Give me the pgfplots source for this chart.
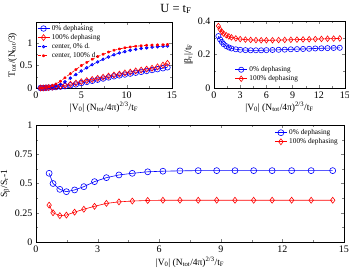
\documentclass[border=0pt]{standalone}
\usepackage{fontspec}
\setmainfont{Liberation Serif}
\usepackage{pgfplots}
\pgfplotsset{compat=1.18}
\definecolor{gblue}{RGB}{0,0,255}
\definecolor{gred}{RGB}{255,0,0}
\pgfplotsset{
  every axis/.style={
    scale only axis,
    /pgf/number format/assume math mode=true,
    tick label style={font=\fontsize{10}{11}\selectfont},
    label style={font=\fontsize{9.5}{10}\selectfont},
    tick align=inside,
    minor x tick num=1, minor y tick num=1,
    major tick length=3pt, minor tick length=1.6pt,
    legend style={draw=none, fill=none, font=\fontsize{7.3}{8}\selectfont, inner sep=1pt, row sep=-1.5pt},
    legend cell align=left,
    legend image code/.code={\draw[mark repeat=2,mark phase=2] plot coordinates {(0pt,0pt) (6pt,0pt) (12pt,0pt)};},
    line width=0.5pt,
  },
  every axis plot/.append style={line width=0.6pt},
}
\begin{document}
\begin{tikzpicture}
\useasboundingbox (0,0) rectangle (349pt,270pt);
\node[font=\fontsize{12.5}{13}\selectfont] at (176pt,261pt) {U = t\textsubscript{F}};
% top-left
\begin{axis}[at={(36pt,182pt)}, anchor=south west, width=136pt, height=66pt,
  xmin=0, xmax=15, ymin=0, ymax=1.47,
  xtick={0,5,10,15}, ytick={0,0.5,1},
  xlabel={|V\textsubscript{0}| (N\textsubscript{tot}/4π)\textsuperscript{2/3}/t\textsubscript{F}},
  ylabel={T\textsubscript{tot}/(N\textsubscript{tot}/3)},
  xlabel style={yshift=3pt}, ylabel style={yshift=-4pt},
  legend style={at={(0.0,1.0)}, anchor=north west}]
\addplot[gblue, mark=o, mark size=2.8pt] coordinates {
(0.5,0) (0.8,0) (1.1,0.005) (1.4,0.01) (1.8,0.015) (2.2,0.02) (2.7,0.03) (3.2,0.04) (3.8,0.06) (4.4,0.08) (5.0,0.11) (5.6,0.135) (6.2,0.16) (6.8,0.185) (7.4,0.21) (8.0,0.235) (8.6,0.26) (9.2,0.28) (9.8,0.30) (10.4,0.32) (11.0,0.34) (11.6,0.36) (12.2,0.38) (12.8,0.40) (13.4,0.42) (14.0,0.44) (14.5,0.46)};
\addlegendentry{0\% dephasing}
\addplot[gred, mark=diamond, mark size=3pt] coordinates {
(0.5,0) (0.8,0) (1.1,0.005) (1.4,0.01) (1.8,0.02) (2.2,0.03) (2.7,0.045) (3.2,0.06) (3.8,0.085) (4.4,0.11) (5.0,0.14) (5.6,0.165) (6.2,0.19) (6.8,0.215) (7.4,0.24) (8.0,0.265) (8.6,0.29) (9.2,0.31) (9.8,0.335) (10.4,0.355) (11.0,0.38) (11.6,0.40) (12.2,0.42) (12.8,0.44) (13.4,0.47) (14.0,0.51) (14.5,0.55)};
\addlegendentry{100\% dephasing}
\addplot[gblue, dashed, mark=o, mark size=1.2pt, mark options={solid, line width=0.9pt}] coordinates {
(0.5,0) (0.8,0) (1.1,0.005) (1.4,0.01) (1.8,0.02) (2.2,0.04) (2.7,0.08) (3.2,0.14) (3.8,0.22) (4.4,0.30) (5.0,0.38) (5.6,0.45) (6.2,0.52) (6.8,0.58) (7.4,0.64) (8.0,0.69) (8.6,0.74) (9.2,0.78) (9.8,0.81) (10.4,0.84) (11.0,0.86) (11.6,0.88) (12.2,0.895) (12.8,0.91) (13.4,0.92) (14.0,0.93) (14.5,0.935)};
\addlegendentry{center, 0\% d.}
\addplot[gred, dashed, mark=asterisk, mark size=1.4pt, mark options={solid, line width=0.9pt}] coordinates {
(0.5,0) (0.8,0) (1.1,0.01) (1.4,0.02) (1.8,0.05) (2.2,0.09) (2.7,0.15) (3.2,0.23) (3.8,0.32) (4.4,0.41) (5.0,0.50) (5.6,0.57) (6.2,0.64) (6.8,0.70) (7.4,0.75) (8.0,0.80) (8.6,0.84) (9.2,0.87) (9.8,0.895) (10.4,0.915) (11.0,0.93) (11.6,0.94) (12.2,0.95) (12.8,0.955) (13.4,0.96) (14.0,0.965) (14.5,0.97)};
\addlegendentry{center, 100\% d.}
\end{axis}
% top-right
\begin{axis}[at={(214pt,182pt)}, anchor=south west, width=131pt, height=67pt,
  xmin=0, xmax=15, ymin=0, ymax=0.4,
  xtick={0,3,6,9,12,15}, ytick={0,0.2,0.4},
  yticklabel style={/pgf/number format/fixed},
  xlabel={|V\textsubscript{0}| (N\textsubscript{tot}/4π)\textsuperscript{2/3}/t\textsubscript{F}},
  ylabel={|β\textsubscript{r}|/t\textsubscript{F}},
  xlabel style={yshift=3pt}, ylabel style={yshift=-2pt},
  legend style={at={(0.15,0.04)}, anchor=south west}]
\addplot[gblue, mark=o, mark size=2.6pt] coordinates {
(0.5,0.31) (0.7,0.29) (0.9,0.275) (1.1,0.262) (1.4,0.25) (1.7,0.242) (2.0,0.236) (2.5,0.231) (3.0,0.228) (3.6,0.226) (4.2,0.225) (4.8,0.225) (5.4,0.225) (6.0,0.226) (6.7,0.227) (7.4,0.228) (8.1,0.229) (8.8,0.231) (9.5,0.232) (10.2,0.233) (10.9,0.234) (11.6,0.236) (12.3,0.237) (13.0,0.238) (13.7,0.239) (14.4,0.24)};
\addlegendentry{0\% dephasing}
\addplot[gred, mark=diamond, mark size=2.8pt] coordinates {
(0.5,0.37) (0.7,0.35) (0.9,0.335) (1.1,0.325) (1.4,0.315) (1.7,0.308) (2.0,0.302) (2.5,0.296) (3.0,0.292) (3.6,0.289) (4.2,0.287) (4.8,0.286) (5.4,0.285) (6.0,0.285) (6.7,0.285) (7.4,0.286) (8.1,0.287) (8.8,0.288) (9.5,0.289) (10.2,0.29) (10.9,0.291) (11.6,0.292) (12.3,0.293) (13.0,0.294) (13.7,0.295) (14.4,0.296)};
\addlegendentry{100\% dephasing}
\end{axis}
% bottom
\begin{axis}[at={(36pt,28pt)}, anchor=south west, width=308pt, height=117pt,
  xmin=0, xmax=15, ymin=0, ymax=1,
  xtick={0,3,6,9,12,15}, ytick={0,0.25,0.5,0.75,1},
  yticklabel style={/pgf/number format/fixed},
  xlabel={|V\textsubscript{0}| (N\textsubscript{tot}/4π)\textsuperscript{2/3}/t\textsubscript{F}},
  ylabel={S\textsubscript{β}/S\textsubscript{r}-1},
  xlabel style={yshift=2pt}, ylabel style={yshift=-2pt},
  legend style={at={(0.99,0.99)}, anchor=north east}]
\addplot[gblue, mark=o, mark size=3pt] coordinates {
(0.64,0.587) (0.83,0.50) (1.16,0.45) (1.48,0.43) (1.88,0.445) (2.33,0.473) (2.85,0.516) (3.43,0.55) (4.04,0.573) (4.69,0.587) (5.44,0.60) (6.18,0.605) (7.01,0.608) (7.9,0.61) (8.8,0.61) (9.69,0.61) (10.6,0.61) (11.5,0.61) (12.45,0.61) (13.4,0.61) (14.45,0.61)};
\addlegendentry{0\% dephasing}
\addplot[gred, mark=diamond, mark size=3pt] coordinates {
(0.64,0.315) (0.83,0.25) (1.16,0.225) (1.48,0.23) (1.88,0.255) (2.33,0.28) (2.85,0.305) (3.43,0.33) (4.04,0.343) (4.69,0.35) (5.44,0.355) (6.18,0.357) (7.01,0.357) (7.9,0.357) (8.8,0.357) (9.69,0.357) (10.6,0.357) (11.5,0.357) (12.45,0.357) (13.4,0.357) (14.45,0.357)};
\addlegendentry{100\% dephasing}
\end{axis}
\end{tikzpicture}
\end{document}
